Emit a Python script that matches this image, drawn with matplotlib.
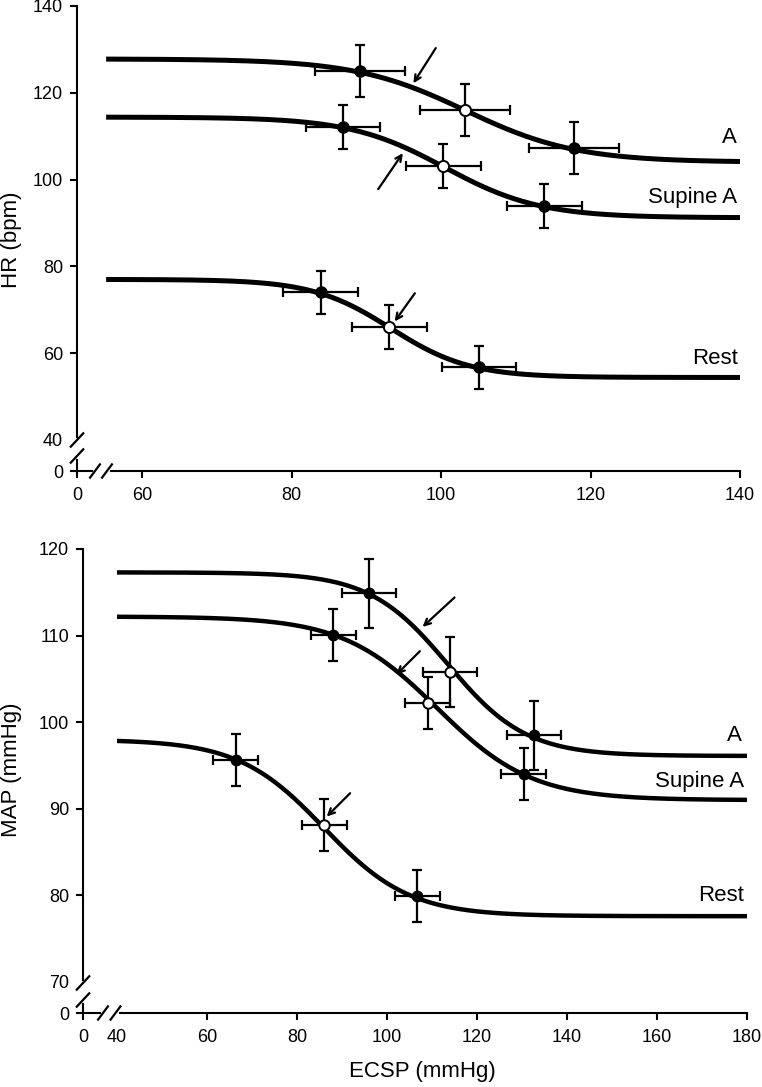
import numpy as np
import matplotlib
matplotlib.use("Agg")
import matplotlib.pyplot as plt

plt.rcParams['font.family'] = ['Liberation Sans', 'DejaVu Sans']

# ---------------- data: HR panel ----------------
groups = ["A", "Supine A", "Rest"]
hr_ecsp = [[89.2, 103.2, 117.8], [86.9, 100.3, 113.8], [83.9, 93.1, 105.1]]
hr_ecsp_err = [[6, 6, 6], [5, 5, 5], [5, 5, 5]]
hr_values = [[125.0, 116.0, 107.2], [112.1, 103.1, 93.9], [74.0, 66.0, 56.7]]
hr_values_err = [[6, 6, 6], [5, 5, 5], [5, 5, 5]]
# logistic model parameters of the fitted curves
hr_fit_max = [127.8, 114.4, 77.0]
hr_fit_min = [104.0, 91.2, 54.4]
hr_fit_gain = [0.135, 0.157, 0.19]
hr_fit_centre = [103.3, 100.5, 93.3]
hr_fit_span = [55.2, 140.0]
hr_arrow_tail = [(99.3, 130.3), (91.6, 97.8), (96.5, 73.8)]
hr_arrow_tip = [(96.3, 122.2), (94.9, 106.1), (93.8, 67.3)]
hr_label_at = [(139.6, 109.8), (139.6, 95.9), (139.7, 58.7)]
hr_xticks = [60, 80, 100, 120, 140]
hr_yticks = [40, 60, 80, 100, 120, 140]

# ---------------- data: MAP panel ----------------
map_ecsp = [[96.0, 113.9, 132.7], [88.1, 109.0, 130.4], [66.4, 86.0, 106.7]]
map_ecsp_err = [[6, 6, 6], [5, 5, 5], [5, 5, 5]]
map_values = [[114.9, 105.8, 98.5], [110.1, 102.2, 94.0], [95.6, 88.1, 79.9]]
map_values_err = [[4, 4, 4], [3, 3, 3], [3, 3, 3]]
map_fit_max = [117.3, 112.2, 98.0]
map_fit_min = [96.1, 91.0, 77.6]
map_fit_gain = [0.115, 0.095, 0.105]
map_fit_centre = [113.5, 111.2, 86.0]
map_fit_span = [40.0, 180.0]
map_arrow_tail = [(115.0, 114.4), (107.3, 108.2), (91.8, 91.8)]
map_arrow_tip = [(107.9, 111.0), (102.1, 105.5), (86.6, 89.1)]
map_label_at = [(178.8, 98.5), (179.4, 93.1), (179.4, 80.0)]
map_xticks = [40, 60, 80, 100, 120, 140, 160, 180]
map_yticks = [70, 80, 90, 100, 110, 120]

open_marker = [False, True, False]

W, H = 762, 1087
fig = plt.figure(figsize=(W / 100, H / 100), dpi=100)

# axes boxes in pixels: left, top(origin y), right, top
def px_axes(x0, y0, x1, y1):
    return fig.add_axes([x0 / W, 1 - y0 / H, (x1 - x0) / W, (y0 - y1) / H])

ax1 = px_axes(77, 471, 740, 6)
ax2 = px_axes(83, 1013, 747, 549)


def draw_break(ax, ax_w, ax_h, y_offsets, x_offsets, hx, hy):
    # y axis slashes
    kw = dict(transform=ax.transAxes, clip_on=False, color='black', lw=1.6,
              solid_capstyle='butt', zorder=10)
    ys = [o / ax_h for o in y_offsets]
    ax.plot([0, 0], ys, transform=ax.transAxes, clip_on=False, color='white',
            lw=3.5, zorder=9)
    for y in ys:
        ax.plot([-hx / ax_w, hx / ax_w], [y - hy / ax_h, y + hy / ax_h], **kw)
    xs = [o / ax_w for o in x_offsets]
    ax.plot(xs, [0, 0], transform=ax.transAxes, clip_on=False, color='white',
            lw=3.5, zorder=9)
    for x in xs:
        ax.plot([x - 0.8 * hx / ax_w, x + 0.8 * hx / ax_w],
                [-hy / ax_h, hy / ax_h], **kw)


def panel(ax, ecsp, ecsp_err, vals, vals_err, fmax, fmin, fgain, fcentre,
          span, tails, tips, label_at, lw_curve, ms):
    xs = np.linspace(span[0], span[1], 400)
    for i in range(3):
        curve = fmin[i] + (fmax[i] - fmin[i]) / (1 + np.exp(fgain[i] * (xs - fcentre[i])))
        ax.plot(xs, curve, color='black', lw=lw_curve, solid_capstyle='butt', zorder=2)
        ax.errorbar(ecsp[i], vals[i], xerr=ecsp_err[i], yerr=vals_err[i], fmt='none',
                    ecolor='black', elinewidth=1.6, capsize=3.4, capthick=1.6, zorder=3)
        for j in range(3):
            if open_marker[j]:
                ax.plot(ecsp[i][j], vals[i][j], 'o', ms=ms, mfc='white', mec='black',
                        mew=1.4, zorder=4)
            else:
                ax.plot(ecsp[i][j], vals[i][j], 'o', ms=ms, mfc='black', mec='black',
                        zorder=4)
        ax.annotate('', xy=tips[i], xytext=tails[i],
                    arrowprops=dict(arrowstyle='->,head_length=0.45,head_width=0.22',
                                    lw=1.6, color='black', shrinkA=0, shrinkB=0),
                    zorder=5)
        ax.text(label_at[i][0], label_at[i][1], groups[i], ha='right', va='center',
                fontsize=16)
    for s in ['top', 'right']:
        ax.spines[s].set_visible(False)
    for s in ['left', 'bottom']:
        ax.spines[s].set_linewidth(1.5)
    ax.tick_params(direction='out', length=5, width=1.5, labelsize=13)
    ax.tick_params(axis='y', pad=5)
    ax.tick_params(axis='x', pad=6.5)


panel(ax1, hr_ecsp, hr_ecsp_err, hr_values, hr_values_err, hr_fit_max, hr_fit_min,
      hr_fit_gain, hr_fit_centre, hr_fit_span, hr_arrow_tail, hr_arrow_tip,
      hr_label_at, 3.6, 8)
panel(ax2, map_ecsp, map_ecsp_err, map_values, map_values_err, map_fit_max, map_fit_min,
      map_fit_gain, map_fit_centre, map_fit_span, map_arrow_tail, map_arrow_tip,
      map_label_at, 3.2, 7.5)

# axis limits: the origin of each axis is a broken "0"
hr_x0 = 60 - 65 / 7.475
hr_y0 = 40 - 31 / 4.335
ax1.set_xlim(hr_x0, 140)
ax1.set_ylim(hr_y0, 140)
ax1.set_xticks([hr_x0] + hr_xticks, ["0"] + [str(t) for t in hr_xticks])
ax1.set_yticks([hr_y0] + hr_yticks, ["0"] + [str(t) for t in hr_yticks])
ax1.yaxis.get_major_ticks()[1].tick1line.set_visible(False)

map_x0 = 40 - 34 / 4.5
map_y0 = 70 - 31 / 8.66
ax2.set_xlim(map_x0, 180)
ax2.set_ylim(map_y0, 120)
ax2.set_xticks([map_x0] + map_xticks, ["0"] + [str(t) for t in map_xticks])
ax2.set_yticks([map_y0] + map_yticks, ["0"] + [str(t) for t in map_yticks])
ax2.xaxis.get_major_ticks()[1].tick1line.set_visible(False)
ax2.yaxis.get_major_ticks()[1].tick1line.set_visible(False)

draw_break(ax1, 663, 465, [31, 15], [18, 30], 7, 7.5)
draw_break(ax2, 664, 464, [30, 13], [20, 32.5], 7, 7.5)

fig.text(12 / W, 1 - 240 / H, "HR (bpm)", rotation=90, ha='center', va='center',
         fontsize=16)
fig.text(12 / W, 1 - 770 / H, "MAP (mmHg)", rotation=90, ha='center', va='center',
         fontsize=16)
fig.text(422 / W, 1 - 1071 / H, "ECSP (mmHg)", ha='center', va='center', fontsize=16)

fig.savefig("out.png", dpi=100)
